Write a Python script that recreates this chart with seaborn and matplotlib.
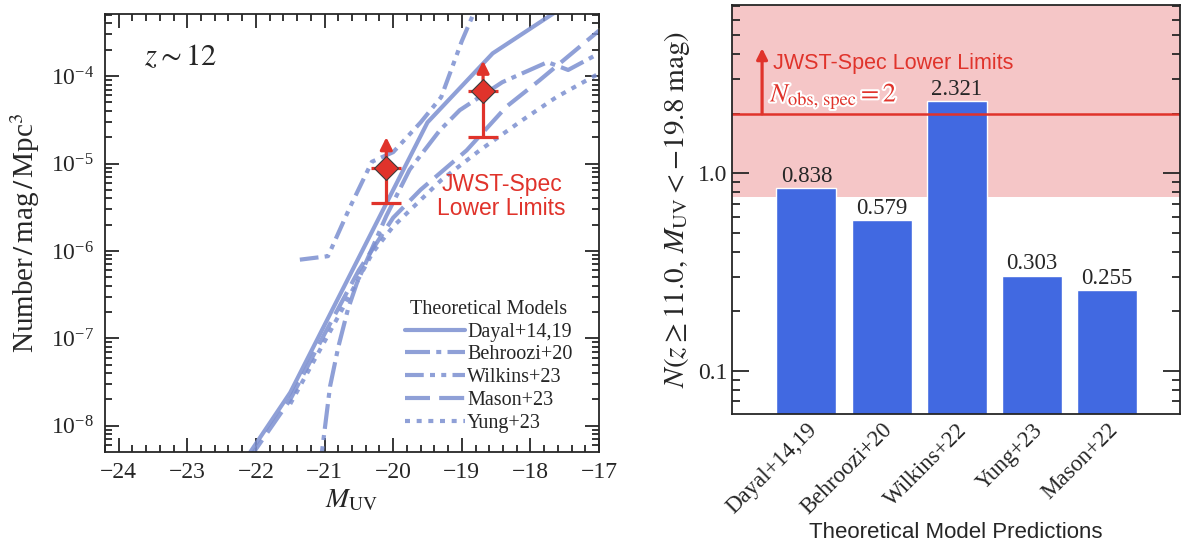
import numpy as np
import pandas as pd
import matplotlib
matplotlib.use("Agg")
import matplotlib.pyplot as plt
import matplotlib.patheffects as pe
from matplotlib.lines import Line2D
from matplotlib.ticker import LogLocator, NullFormatter, FixedLocator, FuncFormatter
import seaborn as sns

# ---- left panel: model UV luminosity functions at z~12 (log10 phi) ----
MODELS = ["Dayal+14,19", "Behroozi+20", "Wilkins+23", "Mason+23", "Yung+23"]

DAYAL_M = [-22.5, -21.5, -19.5, -18.55, -17.0]
DAYAL_LOGPHI = [-8.79, -7.62, -4.53, -3.74, -2.94]

BEHROOZI_M = [-21.15, -21.04, -20.92, -20.80, -20.66, -20.53, -20.10, -19.76,
              -19.32, -19.03, -18.41, -17.75, -17.45, -17.0]
BEHROOZI_LOGPHI = [-9.0, -8.31, -7.55, -7.10, -6.67, -6.37, -5.60, -5.07,
                   -4.62, -4.39, -4.07, -3.84, -3.93, -3.74]

WILKINS_M = [-21.36, -20.95, -20.63, -20.31, -20.0, -19.6, -19.3, -19.0, -18.7]
WILKINS_LOGPHI = [-6.10, -6.06, -5.50, -4.98, -4.87, -4.53, -4.24, -3.60, -3.05]

MASON_M = [-22.4, -21.5, -21.0, -20.5, -20.0, -19.6, -18.93, -18.35, -17.87, -17.0]
MASON_LOGPHI = [-8.72, -7.70, -6.95, -6.22, -5.62, -5.30, -4.85, -4.35, -4.05, -3.48]

YUNG_M = [-21.5, -20.8, -20.3, -20.0, -19.3, -18.74, -18.11, -17.62, -17.0]
YUNG_LOGPHI = [-7.75, -6.75, -6.02, -5.72, -5.19, -4.85, -4.50, -4.24, -3.97]

# JWST spectroscopic lower limits
OBS_M = [-20.1, -18.69]
OBS_PHI = [8.9e-6, 6.8e-5]
OBS_LOW = [3.5e-6, 2.0e-5]
OBS_ARROW_TOP = [2.0e-5, 1.5e-4]

# ---- right panel: predicted number counts ----
PRED_MODELS = ["Dayal+14,19", "Behroozi+20", "Wilkins+22", "Yung+23", "Mason+22"]
PRED_N = [0.838, 0.579, 2.321, 0.303, 0.255]
N_OBS_SPEC = 2.0
SHADE_LOW = 0.755
N_ARROW_TOP = 4.3

LINE_COLOR = "#7c8fd0"
RED = "#e0332b"
BAR_COLOR = "#4169e1"

DASHES = {
    "Dayal+14,19": "",
    "Behroozi+20": (6, 1.5, 1.2, 1.5),
    "Wilkins+23": (4.5, 1.5, 1.2, 1.5, 1.2, 1.5),
    "Mason+23": (6, 2.2),
    "Yung+23": (1.2, 1.6),
}

sns.set_style("ticks")
plt.rcParams["font.family"] = ["Liberation Serif", "DejaVu Serif"]
plt.rcParams["mathtext.fontset"] = "stix"
plt.rcParams["axes.linewidth"] = 1.3

frames = []
for name, m, lp in [("Dayal+14,19", DAYAL_M, DAYAL_LOGPHI),
                    ("Behroozi+20", BEHROOZI_M, BEHROOZI_LOGPHI),
                    ("Wilkins+23", WILKINS_M, WILKINS_LOGPHI),
                    ("Mason+23", MASON_M, MASON_LOGPHI),
                    ("Yung+23", YUNG_M, YUNG_LOGPHI)]:
    frames.append(pd.DataFrame({"M": m, "phi": 10.0 ** np.array(lp), "model": name}))
lf_df = pd.concat(frames, ignore_index=True)

fig = plt.figure(figsize=(11.82, 5.41), dpi=100)
ax1 = fig.add_axes([0.0888, 0.1645, 0.418, 0.8096])
ax2 = fig.add_axes([0.6193, 0.2348, 0.379, 0.756])

# ---------------- left panel ----------------
ax1.set_yscale("log")
sns.lineplot(data=lf_df, x="M", y="phi", style="model", style_order=MODELS,
             dashes=DASHES, color=LINE_COLOR, lw=3, alpha=0.85,
             legend=False, sort=False, estimator=None, ax=ax1)

ax1.errorbar(OBS_M, OBS_PHI,
             yerr=[np.array(OBS_PHI) - np.array(OBS_LOW), np.zeros(2)],
             fmt="none", ecolor=RED, elinewidth=2.3, capsize=11, capthick=2.3,
             zorder=4)
for m, p, top in zip(OBS_M, OBS_PHI, OBS_ARROW_TOP):
    ax1.annotate("", xy=(m, top), xytext=(m, p),
                 arrowprops=dict(arrowstyle="-|>", color=RED, lw=2.3,
                                 mutation_scale=18, shrinkA=0, shrinkB=0),
                 zorder=4)
ax1.plot(OBS_M, OBS_PHI, "D", color=RED, mec="#3a3a3a", mew=0.8, ms=12,
         zorder=6)

ax1.set_xlim(-24.2, -17.0)
ax1.set_ylim(10 ** -8.3, 10 ** -3.29)
ax1.xaxis.set_major_locator(FixedLocator(range(-24, -16)))
ax1.xaxis.set_minor_locator(FixedLocator(np.arange(-24.2, -16.9, 0.2)))
ax1.yaxis.set_major_locator(LogLocator(base=10, numticks=20))
ax1.yaxis.set_minor_locator(LogLocator(base=10, subs=np.arange(2, 10), numticks=20))
ax1.yaxis.set_minor_formatter(NullFormatter())
ax1.tick_params(which="both", direction="in", top=True, right=True,
                labelsize=17, width=1.3)
ax1.tick_params(which="major", length=10)
ax1.tick_params(which="minor", length=5)
ax1.tick_params(axis="y", pad=8)
ax1.tick_params(axis="x", pad=7)

ax1.set_xlabel(r"$M_{\rm UV}$", fontsize=20, labelpad=4)
ax1.set_ylabel(r"Number$\,/\,$mag$\,/\,$Mpc$^3$", fontsize=21, labelpad=6)

ax1.text(0.08, 0.90, r"$z \sim 12$", transform=ax1.transAxes, fontsize=22,
         ha="left", va="center")
ax1.text(-18.42, 10 ** -5.38, "JWST-Spec\nLower Limits", color=RED,
         family=["Liberation Sans", "DejaVu Sans"], fontsize=16.5,
         ha="center", va="center", linespacing=1.05)

handles = [Line2D([], [], color=LINE_COLOR, lw=3, alpha=0.85,
                  linestyle="-" if DASHES[n] == "" else (0, DASHES[n]))
           for n in MODELS]
leg = ax1.legend(handles, MODELS, title="Theoretical Models", loc="lower right",
                 bbox_to_anchor=(0.975, 0.012), frameon=False, fontsize=14.5,
                 title_fontsize=14.5, handlelength=3.0, handletextpad=0.1,
                 labelspacing=0.18, borderpad=0.2)

# ---------------- right panel ----------------
ax2.set_yscale("log")
ax2.axhspan(SHADE_LOW, 100, color="#f5c6c7", lw=0, zorder=0)
bar_df = pd.DataFrame({"model": PRED_MODELS, "N": PRED_N})
sns.barplot(data=bar_df, x="model", y="N", order=PRED_MODELS, color=BAR_COLOR,
            saturation=1, width=0.8, ax=ax2, zorder=2)
ax2.bar_label(ax2.containers[0], labels=[f"{v:.3f}" for v in PRED_N],
              fontsize=16.5, padding=1)
ax2.axhline(N_OBS_SPEC, color=RED, lw=1.8, zorder=3)
ax2.annotate("", xy=(-0.59, N_ARROW_TOP), xytext=(-0.59, N_OBS_SPEC),
             arrowprops=dict(arrowstyle="-|>", color=RED, lw=2.3,
                             mutation_scale=16, shrinkA=0, shrinkB=0), zorder=4)
ax2.text(-0.45, 3.6, "JWST-Spec Lower Limits", color=RED,
         family=["Liberation Sans", "DejaVu Sans"], fontsize=15.5,
         ha="left", va="center")
ax2.text(-0.48, 2.45, r"$N_{\rm obs,\,spec} = 2$", color=RED, fontsize=19,
         ha="left", va="center",
         path_effects=[pe.withStroke(linewidth=3, foreground="white")])

ax2.set_xlim(-0.99, 4.97)
ax2.set_ylim(0.0604, 7.12)
ax2.yaxis.set_major_locator(LogLocator(base=10, numticks=10))
ax2.yaxis.set_minor_locator(LogLocator(base=10, subs=np.arange(2, 10), numticks=10))
ax2.yaxis.set_major_formatter(FuncFormatter(lambda v, p: f"{v:.1f}"))
ax2.yaxis.set_minor_formatter(NullFormatter())
ax2.tick_params(axis="y", which="both", direction="in", right=True,
                labelsize=17, width=1.3)
ax2.tick_params(axis="y", which="major", length=12)
ax2.tick_params(axis="y", which="minor", length=6)
ax2.tick_params(axis="x", length=0, labelsize=16.5, pad=4)
for lab in ax2.get_xticklabels():
    lab.set_rotation(45)
    lab.set_ha("right")
    lab.set_rotation_mode("anchor")
ax2.set_xlabel("Theoretical Model Predictions", fontsize=16,
               family=["Liberation Sans", "DejaVu Sans"], labelpad=2)
ax2.set_ylabel(r"$N(z \geq 11.0,\, M_{\rm UV} < -19.8\ {\rm mag})$",
               fontsize=21, labelpad=4)
for sp in ax2.spines.values():
    sp.set_visible(True)
    sp.set_zorder(5)

fig.savefig("out.png", dpi=100)
